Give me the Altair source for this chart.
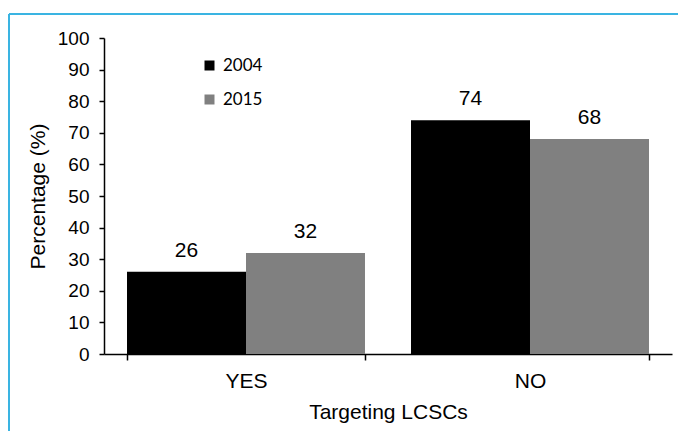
import altair as alt
import pandas as pd

categories = ["YES", "NO"]
years = ["2004", "2015"]
values_2004 = [26, 74]
values_2015 = [32, 68]
y_ticks = [0, 10, 20, 30, 40, 50, 60, 70, 80, 90, 100]
colors = ["#000000", "#808080"]

rows = []
for i, c in enumerate(categories):
    rows.append({"cat": c, "year": "2004", "value": values_2004[i]})
    rows.append({"cat": c, "year": "2015", "value": values_2015[i]})
df = pd.DataFrame(rows)

FONT = "Liberation Sans"

x_enc = alt.X(
    "cat:N",
    sort=categories,
    scale=alt.Scale(paddingInner=0.162, paddingOuter=0.081),
    axis=alt.Axis(
        title="Targeting LCSCs",
        labelAngle=0,
        labelFontSize=21,
        labelFont=FONT,
        labelColor="#000000",
        labelPadding=10,
        titleFontSize=21,
        titleFont=FONT,
        titleFontWeight="normal",
        titleColor="#000000",
        titlePadding=10,
        tickBand="extent",
        tickSize=6,
        tickColor="#000000",
        tickWidth=1.5,
        domainColor="#000000",
        domainWidth=1.5,
    ),
)
xoff = alt.XOffset("year:N", sort=years, scale=alt.Scale(paddingInner=0, paddingOuter=0))
y_enc = alt.Y(
    "value:Q",
    scale=alt.Scale(domain=[0, 100], nice=False),
    axis=alt.Axis(
        title="Percentage (%)",
        values=y_ticks,
        tickCount=11,
        labelOverlap=False,
        grid=False,
        labelFontSize=19,
        labelFont=FONT,
        labelColor="#000000",
        labelPadding=10,
        titleFontSize=21,
        titleFont=FONT,
        titleFontWeight="normal",
        titleColor="#000000",
        titlePadding=9,
        tickSize=5,
        tickColor="#000000",
        tickWidth=1.5,
        domainColor="#000000",
        domainWidth=1.5,
    ),
)

bars = alt.Chart(df).mark_bar().encode(
    x=x_enc,
    xOffset=xoff,
    y=y_enc,
    color=alt.Color(
        "year:N",
        sort=years,
        scale=alt.Scale(domain=years, range=colors),
        legend=alt.Legend(
            title=None,
            orient="none",
            legendX=97,
            legendY=19,
            symbolType="square",
            symbolSize=100,
            symbolStrokeWidth=0,
            labelFont="Lato",
            labelFontSize=17,
            labelColor="#000000",
            labelOffset=5,
            rowPadding=16,
            padding=0,
        ),
    ),
)

labels = alt.Chart(df).mark_text(
    baseline="bottom", dy=-11, fontSize=21, font=FONT, color="#000000"
).encode(
    x=x_enc,
    xOffset=xoff,
    y=y_enc,
    text=alt.Text("value:Q"),
)

frame_left = alt.Chart(df).mark_rule(color="#3ab4e2", strokeWidth=1.5).encode(
    x=alt.value(-95), y=alt.value(-24), y2=alt.value(400)
)
frame_top = alt.Chart(df).mark_rule(color="#3ab4e2", strokeWidth=1.5).encode(
    x=alt.value(-95), x2=alt.value(580), y=alt.value(-24)
)

chart = (
    alt.layer(bars, labels, frame_left, frame_top)
    .properties(
        width=568,
        height=316,
        autosize=alt.AutoSizeParams(type="none"),
        padding={"left": 104, "top": 38, "right": 6, "bottom": 77},
        background="#ffffff",
    )
    .configure_view(stroke=None)
)

chart.save("out.html", embed_options={"renderer": "svg", "actions": False})
